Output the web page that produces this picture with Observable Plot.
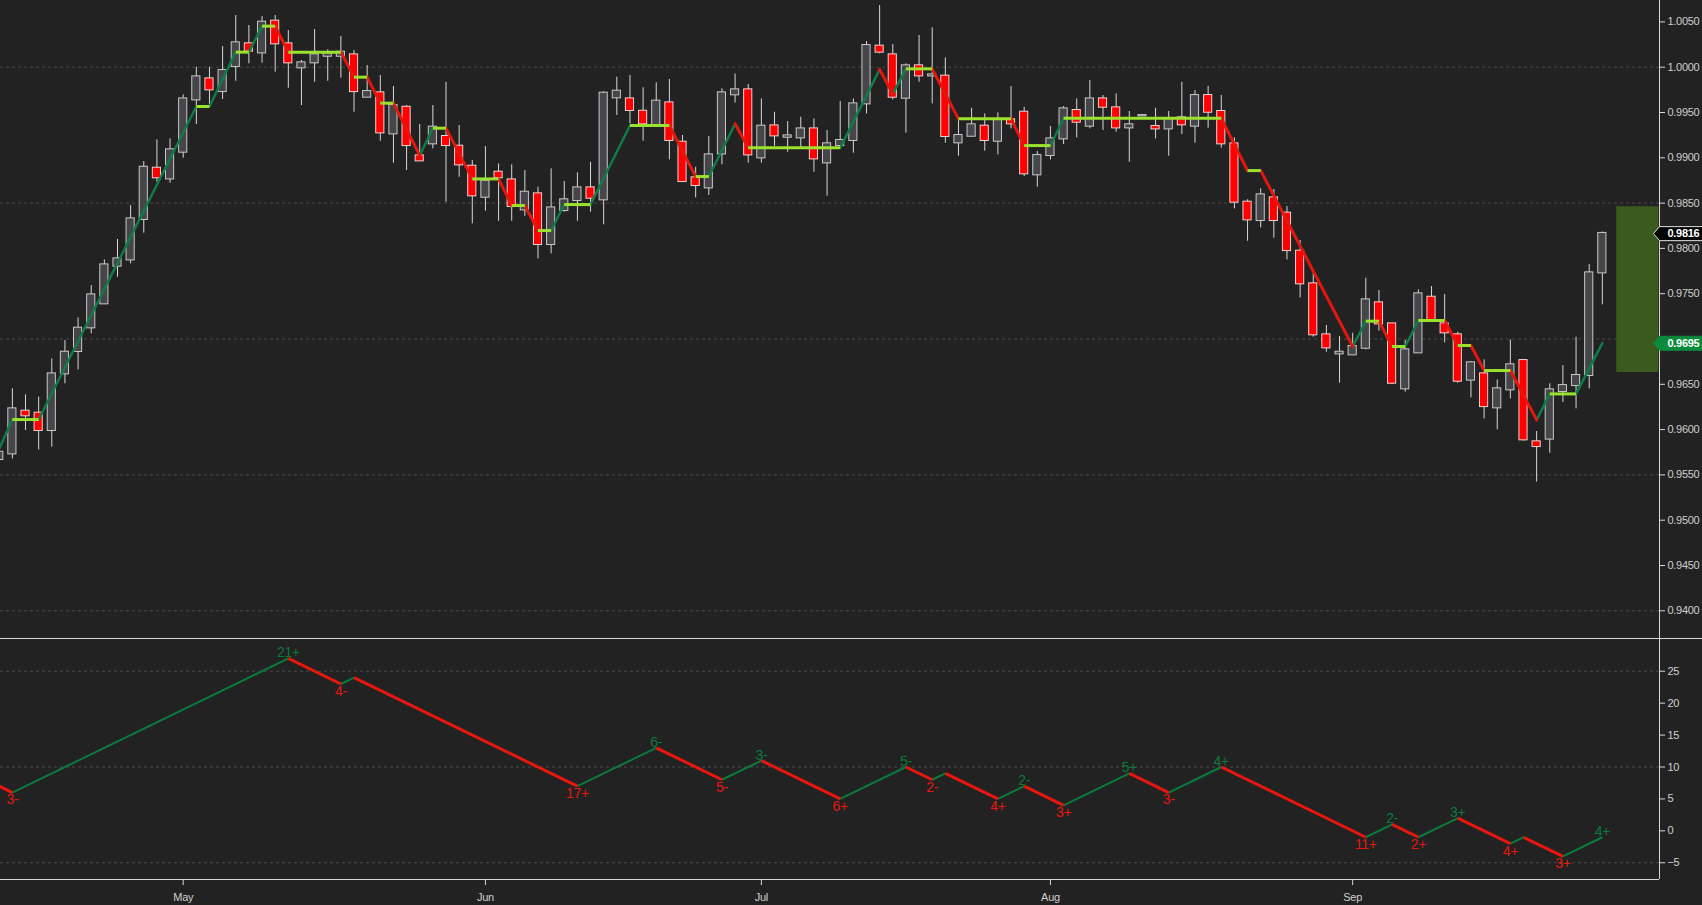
<!DOCTYPE html>
<html>
<head>
<meta charset="utf-8">
<script src="https://cdn.jsdelivr.net/npm/d3@7"></script>
<script src="https://cdn.jsdelivr.net/npm/@observablehq/plot@0.6"></script>
<style>
  html, body { margin: 0; padding: 0; background: #222; overflow: hidden; }
  #top, #bottom { width: 1702px; }
  #bottom { border-top: 1px solid #d8d8d8; }
</style>
</head>
<body>
<div id="top"></div>
<div id="bottom"></div>
<script>
// trading-day index of the first bar (0 = 1 May)
const firstBar = -14;

const opens = [
  0.95670, 0.95732, 0.96203, 0.96181, 0.95990, 0.96615, 0.96862, 0.97123, 0.97388, 0.97804,
  0.97873, 0.98319, 0.98885, 0.98767, 0.99062, 0.99639, 0.99871, 0.99731, 1.00007, 1.00258,
  1.00158, 1.00508, 1.00258, 0.99993, 1.00048, 1.00121, 1.00121, 1.00136, 0.99669, 0.99717,
  0.99264, 0.99558, 0.99021, 0.99154, 0.99235, 0.99128, 0.98907, 0.98565, 0.98841, 0.98756,
  0.98425, 0.98602, 0.98043, 0.98418, 0.98528, 0.98668, 0.98536, 0.99662, 0.99650, 0.99514,
  0.99367, 0.99606, 0.99172, 0.98779, 0.98668, 0.99043, 0.99695, 0.99750, 0.98999, 0.99352,
  0.99227, 0.99220, 0.99319, 0.98944, 0.99135, 0.99191, 0.99595, 1.00232, 1.00136, 0.99658,
  1.00015, 0.99904, 0.99901, 0.99165, 0.99238, 0.99349, 0.99183, 0.99419, 0.99503, 0.98812,
  0.99025, 0.99209, 0.99522, 0.99349, 0.99650, 0.99551, 0.99330, 0.99463, 0.99345, 0.99319,
  0.99441, 0.99349, 0.99687, 0.99511, 0.99154, 0.98510, 0.98308, 0.98558, 0.98389, 0.97969,
  0.97609, 0.97046, 0.96836, 0.96825, 0.96898, 0.97399, 0.97167, 0.96450, 0.96847, 0.97461,
  0.97167, 0.97046, 0.96546, 0.96615, 0.96240, 0.96439, 0.96762, 0.95865, 0.95895, 0.96420,
  0.96486, 0.96597, 0.97730
];
const highs = [
  0.95800, 0.96450, 0.96383, 0.96358, 0.96781, 0.96983, 0.97233, 0.97590, 0.97873, 0.98098,
  0.98473, 0.98959, 0.99198, 0.99209, 0.99695, 1.00000, 1.00000, 1.00228, 1.00570, 1.00460,
  1.00559, 1.00570, 1.00405, 1.00074, 1.00416, 1.00191, 1.00338, 1.00184, 1.00018, 0.99908,
  0.99787, 0.99577, 0.99367, 0.99577, 0.99834, 0.99356, 0.98970, 0.99124, 0.98933, 0.98922,
  0.98859, 0.98675, 0.98878, 0.98738, 0.98834, 0.98951, 0.99731, 0.99890, 0.99908, 0.99772,
  0.99827, 0.99864, 0.99246, 0.98896, 0.99235, 0.99761, 0.99926, 0.99809, 0.99650, 0.99503,
  0.99400, 0.99448, 0.99430, 0.99301, 0.99621, 0.99650, 1.00283, 1.00681, 1.00250, 1.00037,
  1.00350, 1.00434, 1.00103, 0.99419, 0.99547, 0.99485, 0.99496, 0.99787, 0.99558, 0.99069,
  0.99345, 0.99566, 0.99650, 0.99853, 0.99687, 0.99706, 0.99511, 0.99470, 0.99547, 0.99511,
  0.99834, 0.99742, 0.99787, 0.99687, 0.99220, 0.98536, 0.98657, 0.98650, 0.98462, 0.98087,
  0.97726, 0.97149, 0.97028, 0.97064, 0.97671, 0.97535, 0.97167, 0.96983, 0.97542, 0.97579,
  0.97491, 0.97075, 0.96751, 0.96770, 0.96549, 0.96990, 0.96770, 0.95979, 0.96505, 0.96707,
  0.97020, 0.97822, 0.98180
];
const lows = [
  0.95630, 0.95677, 0.95990, 0.95776, 0.95806, 0.96505, 0.96659, 0.97057, 0.97380, 0.97682,
  0.97829, 0.98168, 0.98731, 0.98720, 0.98996, 0.99367, 0.99566, 0.99643, 0.99845, 1.00037,
  1.00044, 0.99945, 0.99768, 0.99577, 0.99834, 0.99845, 0.99879, 0.99503, 0.99669, 0.99183,
  0.98940, 0.98859, 0.98966, 0.99099, 0.98510, 0.98786, 0.98271, 0.98411, 0.98300, 0.98300,
  0.98355, 0.97884, 0.97940, 0.98400, 0.98300, 0.98400, 0.98260, 0.99467, 0.99375, 0.99183,
  0.99367, 0.98977, 0.98738, 0.98558, 0.98584, 0.98922, 0.99603, 0.98940, 0.98940, 0.99128,
  0.99062, 0.99110, 0.98841, 0.98576, 0.99110, 0.99051, 0.99485, 1.00147, 0.99639, 0.99272,
  0.99834, 0.99595, 0.99161, 0.99018, 0.99227, 0.99073, 0.99032, 0.99319, 0.98793, 0.98675,
  0.98977, 0.99146, 0.99220, 0.99319, 0.99301, 0.99283, 0.98951, 0.99456, 0.99209, 0.99018,
  0.99257, 0.99161, 0.99327, 0.99106, 0.98436, 0.98079, 0.98226, 0.98113, 0.97873, 0.97454,
  0.97020, 0.96854, 0.96512, 0.96825, 0.96880, 0.97086, 0.96497, 0.96413, 0.96847, 0.97204,
  0.96957, 0.96512, 0.96350, 0.96118, 0.95997, 0.96339, 0.95872, 0.95420, 0.95739, 0.96300,
  0.96229, 0.96450, 0.97377
];
const closes = [
  0.95750, 0.96229, 0.96152, 0.95990, 0.96615, 0.96854, 0.97119, 0.97487, 0.97818, 0.97884,
  0.98326, 0.98896, 0.98779, 0.99088, 0.99650, 0.99893, 0.99750, 0.99963, 1.00269, 1.00177,
  1.00497, 1.00258, 1.00048, 1.00048, 1.00136, 1.00147, 1.00166, 0.99731, 0.99731, 0.99275,
  0.99577, 0.99135, 0.98966, 0.99338, 0.99135, 0.98922, 0.98580, 0.98742, 0.98779, 0.98462,
  0.98620, 0.98043, 0.98447, 0.98536, 0.98668, 0.98554, 0.99713, 0.99735, 0.99522, 0.99375,
  0.99625, 0.99191, 0.98738, 0.98694, 0.99032, 0.99717, 0.99750, 0.99032, 0.99349, 0.99242,
  0.99242, 0.99319, 0.98988, 0.99154, 0.99191, 0.99595, 1.00239, 1.00166, 0.99669, 1.00015,
  0.99904, 0.99915, 0.99235, 0.99246, 0.99364, 0.99191, 0.99419, 0.99375, 0.98823, 0.99025,
  0.99209, 0.99540, 0.99393, 0.99650, 0.99558, 0.99330, 0.99364, 0.99466, 0.99319, 0.99430,
  0.99364, 0.99687, 0.99503, 0.99154, 0.98510, 0.98315, 0.98591, 0.98308, 0.97976, 0.97609,
  0.97046, 0.96902, 0.96854, 0.96917, 0.97432, 0.97167, 0.96512, 0.96880, 0.97498, 0.97211,
  0.97068, 0.96534, 0.96737, 0.96254, 0.96450, 0.96715, 0.95887, 0.95813, 0.96439, 0.96486,
  0.96597, 0.97730, 0.98165
];

// swing line vertices (bar index, price)
const swingIdx = [-14, -13, -11, 1, 2, 4, 5, 6, 7, 8, 12, 13, 14, 15, 16, 18, 19, 20, 22, 24,
  25, 26, 27, 28, 29, 31, 34, 37, 39, 40, 42, 43, 50, 53, 54, 55, 57, 59, 63, 64,
  66, 67, 79, 81, 82, 89, 90, 91, 92, 93, 94, 96, 97, 98, 99, 101, 103, 104, 106, 108];
const swingPrice = [0.95790, 0.96111, 0.96111, 0.99566, 0.99566, 1.00166, 1.00166, 1.00453, 1.00453, 1.00166,
  1.00166, 0.99890, 0.99890, 0.99603, 0.99603, 0.99025, 0.99327, 0.99327, 0.98767, 0.98767,
  0.98473, 0.98473, 0.98197, 0.98197, 0.98484, 0.98484, 0.99356, 0.99356, 0.98793, 0.98793,
  0.99375, 0.99110, 0.99110, 0.99974, 0.99706, 0.99982, 0.99982, 0.99430, 0.99430, 0.99135,
  0.99135, 0.99437, 0.99437, 0.98859, 0.98859, 0.96917, 0.97197, 0.97197, 0.96917, 0.96917,
  0.97204, 0.97204, 0.96928, 0.96928, 0.96652, 0.96652, 0.96107, 0.96394, 0.96394, 0.96955];

// swing count panel
const countIdx = [-15, -13, 8, 12, 13, 30, 36, 41, 44, 50, 55, 57, 58, 62, 64, 67, 72, 75, 79,
  90, 92, 94, 97, 101, 102, 105, 108];
const countVal = [8, 6, 27, 23, 24, 7, 13, 8, 11, 5, 10, 8, 9, 5, 7, 4, 9, 6, 10,
  -1, 1, -1, 2, -2, -1, -4, -1];
const countLabel = ["", "3-", "21+", "4-", "", "17+", "6-", "5-", "3-", "6+", "5-", "2-", "", "4+", "2-", "3+", "5+", "3-", "4+",
  "11+", "2-", "2+", "3+", "4+", "", "3+", "4+"];

// projection box and price tags (last close, swing line end)
const boxIdx = [109.1, 112.3];
const boxPrice = [0.96630, 0.98460];
const tagPrices = [0.98163, 0.96953];

// 0.9700 sits under the green tag, so it carries no label
const priceTicks = [0.940, 0.945, 0.950, 0.955, 0.960, 0.965, 0.975, 0.980, 0.985, 0.990, 0.995, 1.000, 1.005];
const priceGrid = [0.940, 0.955, 0.970, 0.985, 1.000];
const countTicks = [-5, 0, 5, 10, 15, 20, 25];
const countGrid = [-5, 10, 25];
const monthStarts = [0, 23, 44, 66, 89];
const monthLabels = ["May", "Jun", "Jul", "Aug", "Sep"];

const xDomain = [-13.904, 112.35];
const font = "'Liberation Sans', Arial, sans-serif";
const chartStyle = {background: "#222", color: "#cfcfcf", fontFamily: font, fontSize: "11px", letterSpacing: "-0.3px"};

const bars = opens.map((o, k) => ({i: firstBar + k, open: o, high: highs[k], low: lows[k], close: closes[k]}));

function segs(xs, ys) {
  return d3.pairs(d3.zip(xs, ys)).map(([[x1, y1], [x2, y2]]) => ({x1, y1, x2, y2, dir: Math.sign(+(y2 - y1).toFixed(6))}));
}
const swingSegs = segs(swingIdx, swingPrice);
const countSegs = segs(countIdx, countVal);
const countPts = countIdx.map((x, k) => ({x, y: countVal[k], label: countLabel[k], peak: k > 0 && countVal[k] > countVal[k - 1]}));

// left-pointing price tag drawn as a custom symbol
const tagSymbol = {
  draw(ctx) {
    ctx.moveTo(-6, 0);
    ctx.lineTo(0, -7);
    ctx.lineTo(60, -7);
    ctx.lineTo(60, 7);
    ctx.lineTo(0, 7);
    ctx.closePath();
  }
};

const grid = {stroke: "#4a4a4a", strokeOpacity: 1, strokeDasharray: "3,3"};

const topChart = Plot.plot({
  width: 1702,
  height: 638,
  marginLeft: 0,
  marginRight: 43,
  marginTop: 0,
  marginBottom: 0,
  style: chartStyle,
  x: {domain: xDomain, axis: null},
  y: {domain: [0.936943, 1.007362], axis: null},
  marks: [
    Plot.gridY(priceGrid, grid),
    Plot.axisY(priceTicks, {anchor: "right", tickSize: 5, tickPadding: 3, tickFormat: d3.format(".4f"), stroke: "#d8d8d8"}),
    Plot.rect([0], {x1: () => boxIdx[0], x2: () => boxIdx[1], y1: () => boxPrice[0], y2: () => boxPrice[1], fill: "#3b5a1e"}),
    Plot.ruleX(bars, {x: "i", y1: "low", y2: "high", stroke: "#d8d8d8", strokeWidth: 1}),
    Plot.rect(bars, {
      x1: d => d.i - 0.31, x2: d => d.i + 0.31, y1: "open", y2: "close",
      insetTop: -0.5, insetBottom: -0.5,
      fill: d => d.close < d.open ? "#ff0000" : "#46464a",
      stroke: d => d.close < d.open ? "#f2d0d0" : "#c8c8c8",
      strokeWidth: 1
    }),
    Plot.link(swingSegs.filter(d => d.dir > 0), {x1: "x1", y1: "y1", x2: "x2", y2: "y2", stroke: "#0e7c47", strokeWidth: 2.5, strokeLinecap: "round"}),
    Plot.link(swingSegs.filter(d => d.dir < 0), {x1: "x1", y1: "y1", x2: "x2", y2: "y2", stroke: "#e3170d", strokeWidth: 3, strokeLinecap: "round"}),
    Plot.link(swingSegs.filter(d => d.dir === 0), {x1: "x1", y1: "y1", x2: "x2", y2: "y2", stroke: "#9be22e", strokeWidth: 3}),
    Plot.ruleX([xDomain[1]], {stroke: "#d8d8d8"}),
    Plot.dot(tagPrices, {x: () => xDomain[1], y: d => d, symbol: tagSymbol, fill: (d, k) => k === 0 ? "#000" : "#0b8a3c", stroke: (d, k) => k === 0 ? "#e0e0e0" : "#0b8a3c", strokeWidth: 1}),
    Plot.text(tagPrices, {x: () => xDomain[1], y: d => d, text: d => d3.format(".4f")(d), dx: 8, textAnchor: "start", fill: "#fff", fontWeight: "bold", fontSize: 11})
  ]
});

const bottomChart = Plot.plot({
  width: 1702,
  height: 266,
  marginLeft: 0,
  marginRight: 43,
  marginTop: 0,
  marginBottom: 26,
  style: chartStyle,
  x: {domain: xDomain, axis: null},
  y: {domain: [-7.62, 29.97], axis: null},
  marks: [
    Plot.gridY(countGrid, grid),
    Plot.axisY(countTicks, {anchor: "right", tickSize: 5, tickPadding: 3, stroke: "#d8d8d8"}),
    Plot.axisX(monthStarts, {anchor: "bottom", tickSize: 6, tickPadding: 8, tickFormat: d => monthLabels[monthStarts.indexOf(d)], stroke: "#d8d8d8"}),
    Plot.link(countSegs.filter(d => d.dir > 0), {x1: "x1", y1: "y1", x2: "x2", y2: "y2", stroke: "#0b7a3d", strokeWidth: 2}),
    Plot.link(countSegs.filter(d => d.dir < 0), {x1: "x1", y1: "y1", x2: "x2", y2: "y2", stroke: "#e8170e", strokeWidth: 3}),
    Plot.text(countPts.filter(d => d.label && d.peak), {x: "x", y: "y", text: "label", lineAnchor: "bottom", dy: -1, fill: "#0b7a3d", fontSize: 14}),
    Plot.text(countPts.filter(d => d.label && !d.peak), {x: "x", y: "y", text: "label", lineAnchor: "top", dy: 2, fill: "#e8170e", fontSize: 14}),
    Plot.ruleY([-7.62], {stroke: "#d8d8d8"}),
    Plot.ruleX([xDomain[1]], {stroke: "#d8d8d8"})
  ]
});

document.getElementById("top").append(topChart);
document.getElementById("bottom").append(bottomChart);
</script>
</body>
</html>
